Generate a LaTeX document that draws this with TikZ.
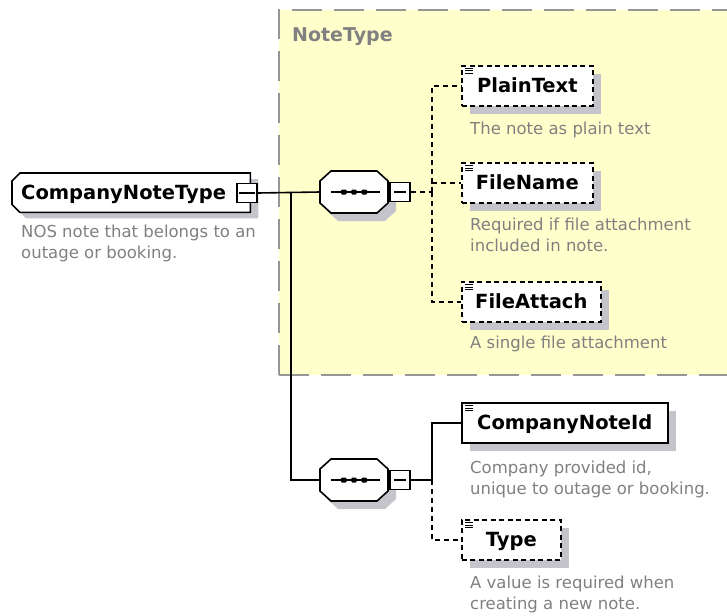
\documentclass[tikz,border=0pt]{standalone}
\usepackage{fontspec}
\setmainfont{DejaVu Sans}
\usetikzlibrary{shadows}
\definecolor{notebg}{RGB}{255,255,204}
\definecolor{notebd}{RGB}{150,150,150}
\definecolor{shadowgray}{RGB}{196,196,202}
\definecolor{descgray}{RGB}{128,128,128}
\tikzset{
  x=1pt, y=-1pt,
  conn/.style={line width=1.6pt, draw=black},
  dashconn/.style={conn, dash pattern=on 5pt off 4pt},
  elem/.style={draw=black, line width=1.6pt, fill=white, anchor=north west,
    inner sep=0pt, minimum height=40pt,
    font=\bfseries\fontsize{19.5}{21}\selectfont, text height=14pt, text depth=0pt,
    drop shadow={shadow xshift=8pt, shadow yshift=-8pt, fill=shadowgray, opacity=1}},
  optelem/.style={elem, dash pattern=on 5pt off 3.5pt},
  desc/.style={anchor=north west, inner sep=0pt, text=descgray, align=left,
    font=\fontsize{16.5}{21}\selectfont},
  minusbox/.style={draw=black, fill=white, line width=1.6pt, minimum width=20pt,
    minimum height=19pt, inner sep=0pt},
  seq/.pic={
    \fill[shadowgray] (-16,-13) -- (31,-13) -- (42,-2) -- (42,19) -- (31,29)
      -- (-16,29) -- (-27,19) -- (-27,-2) -- cycle;
    \node[minimum width=68pt, minimum height=42pt, inner sep=0pt] (-box) at (0,0) {};
    \filldraw[fill=white, draw=black, line width=1.6pt] (-23,-21) -- (23,-21) -- (34,-11)
      -- (34,11) -- (23,21) -- (-23,21) -- (-34,11) -- (-34,-11) -- cycle;
    \draw[line width=1.6pt] (-23,0) -- (26,0);
    \fill[rounded corners=1pt] (-13,-2.5) rectangle (-7.5,2.5) (-2.7,-2.5) rectangle (2.7,2.5)
      (7.5,-2.5) rectangle (13,2.5);
    \node[minusbox] (-minus) at (46,0) {};
    \draw[line width=1.6pt] (40,0) -- (52,0);
  },
  icon/.pic={
    \draw[line width=1pt] (0,0) -- (8,0) (0,2.5) -- (8,2.5) (0,5) -- (8,5);
  }
}
\begin{document}
\begin{tikzpicture}
\useasboundingbox (0,0) rectangle (727,615);
% NoteType group
\fill[notebg] (279,10) rectangle (740,375);
\draw[notebd, line width=2pt, dash pattern=on 30pt off 12pt] (279,375) -- (279,10) -- (740,10);
\draw[notebd, line width=2pt, dash pattern=on 30pt off 12pt] (279,375) -- (740,375);
\node[anchor=west, inner sep=0pt, text=descgray, font=\bfseries\fontsize{19}{20}\selectfont] (ntlabel) at (292,37) {NoteType};

% Root element CompanyNoteType
\node[minimum width=238pt, minimum height=39pt, inner sep=0pt, anchor=north west] (cnt) at (12,173) {};
\fill[shadowgray] ([xshift=14pt,yshift=-6pt]cnt.north west) -- ([xshift=8pt,yshift=-6pt]cnt.north east)
  -- ([xshift=8pt,yshift=-6pt]cnt.south east) -- ([xshift=14pt,yshift=-6pt]cnt.south west)
  -- ([xshift=6pt,yshift=2pt]cnt.south west) -- ([xshift=6pt,yshift=-14pt]cnt.north west) -- cycle;
\filldraw[fill=white, draw=black, line width=1.6pt] ([xshift=8pt]cnt.north west) -- (cnt.north east)
  -- (cnt.south east) -- ([xshift=8pt]cnt.south west) -- ([yshift=8pt]cnt.south west)
  -- ([yshift=-8pt]cnt.north west) -- cycle;
\node[anchor=west, inner sep=0pt, font=\bfseries\fontsize{19.5}{21}\selectfont, text height=14pt, text depth=0pt] (cntlabel) at (21,192) {CompanyNoteType};
\node[minusbox] (cntm) at (247,193) {};
\draw[line width=1.6pt] ([xshift=3pt]cntm.west) -- ([xshift=-3pt]cntm.east);
\node[desc] (cntdesc) at (21,225) {NOS note that belongs to an\\outage or booking.};

% sequences
\pic (s1) at (354,192) {seq};
\pic (s2) at (354,480) {seq};

% elements in NoteType
\node[optelem, minimum width=131pt] (plain) at (461,65) {PlainText};
\node[optelem, minimum width=131pt] (fname) at (461,162) {FileName};
\node[optelem, minimum width=139pt] (fattach) at (461,281) {FileAttach};
\node[elem, minimum width=206pt] (cid) at (461,402) {CompanyNoteId};
\node[optelem, minimum width=99pt] (type) at (461,519) {Type};
\foreach \n in {plain,fname,fattach,cid,type}
  \pic at ([xshift=4pt,yshift=-3.5pt]\n.north west) {icon};

\node[desc] (plaindesc) at (470,122) {The note as plain text};
\node[desc] (fnamedesc) at (470,218) {Required if file attachment\\included in note.};
\node[desc] (fattachdesc) at (470,336) {A single file attachment};
\node[desc] (ciddesc) at (470,461) {Company provided id,\\unique to outage or booking.};
\node[desc] (typedesc) at (470,576) {A value is required when\\creating a new note.};

% connectors
\coordinate (j0) at (291,192);
\coordinate (j1) at (432,192);
\coordinate (j2) at (432,480);
\draw[conn] (cntm.east) -- (s1-box.west);
\draw[conn] (j0) |- (s2-box.west);
\draw[dashconn] (s1-minus.east) -- (j1);
\draw[dashconn] (j1) |- (plain.west);
\draw[dashconn] (j1) |- (fname.west);
\draw[dashconn] (j1) |- (fattach.west);
\draw[conn] (s2-minus.east) -- (j2);
\draw[conn] (j2) |- (cid.west);
\draw[dashconn] (j2) |- (type.west);
\end{tikzpicture}
\end{document}
